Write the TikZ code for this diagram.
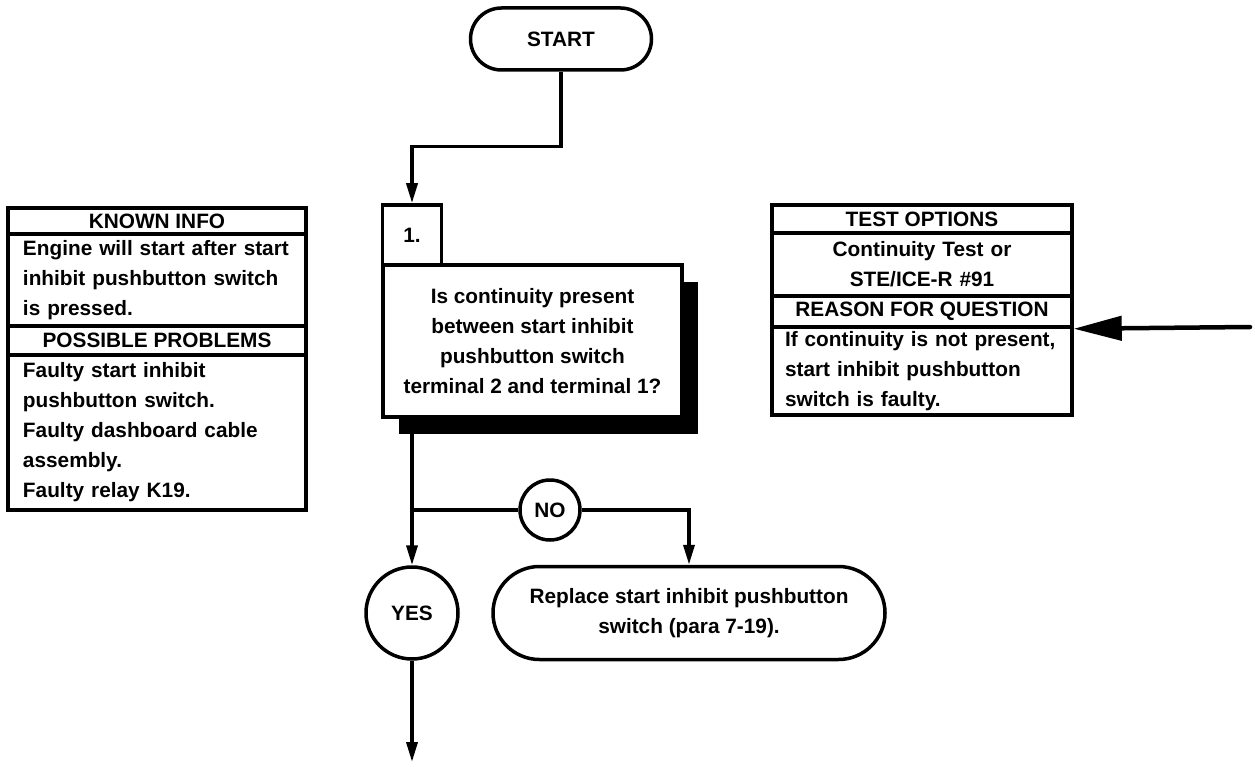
\documentclass[tikz,border=0pt]{standalone}
\usepackage{fontspec}
\setmainfont{Liberation Sans}
\usetikzlibrary{positioning,arrows.meta}

\begin{document}
\begin{tikzpicture}[x=1pt, y=-1pt, line width=3.5pt, font=\bfseries\fontsize{20.8}{30}\selectfont,
    arr/.style = {-{Triangle[length=20pt,width=11pt]}},
    term/.style = {draw, rectangle, fill=white, inner sep=0pt},
    ans/.style = {draw, circle, inner sep=0pt},
    head/.style = {draw, minimum width=298pt, inner sep=0pt},
    body/.style = {draw, text width=284pt, inner xsep=7pt, inner ysep=0pt, align=left},
    cbody/.style = {draw, text width=284pt, inner xsep=8pt, inner ysep=0pt, align=center}]
    \useasboundingbox (0,0) rectangle (1255,767);

    \node[term, minimum width=181pt, minimum height=62pt, rounded corners=31pt] (start) at (561,39) {START};

    \node[fill=black, minimum width=299pt, minimum height=152pt] (shadow) at (548.5,358) {};
    \node[draw, fill=white, minimum width=299pt, minimum height=152pt, align=center] (q1) at (532.5,341)
        {Is continuity present\\between start inhibit\\pushbutton switch\\terminal 2 and terminal 1?};
    \node[draw, fill=white, minimum width=59pt, minimum height=60pt, inner sep=0pt] (num) at (412,235) {1.};

    \node[head, minimum height=26pt] (kh) at (157,221) {KNOWN INFO};
    \node[body, minimum height=92pt] (kb) at (157,280) {\hspace*{8pt}Engine will start after start\\\hspace*{8pt}inhibit pushbutton switch\\\hspace*{8pt}is pressed.};
    \node[head, minimum height=29pt] (ph) at (157,340.5) {POSSIBLE PROBLEMS};
    \node[body, minimum height=155pt] (pb) at (157,432.5) {\hspace*{8pt}Faulty start inhibit\\\hspace*{8pt}pushbutton switch.\\\hspace*{8pt}Faulty dashboard cable\\\hspace*{8pt}assembly.\\\hspace*{8pt}Faulty relay K19.};

    \node[head, minimum width=300pt, minimum height=28pt] (th) at (922,219) {TEST OPTIONS};
    \node[cbody, minimum height=63pt] (tb) at (922,264.5) {Continuity Test or\\STE/ICE-R \#91};
    \node[head, minimum width=300pt, minimum height=31pt] (rh) at (922,311.5) {REASON FOR QUESTION};
    \node[body, inner xsep=8pt, minimum height=88pt] (rb) at (922,371) {\hspace*{5pt}If continuity is not present,\\\hspace*{5pt}start inhibit pushbutton\\\hspace*{5pt}switch is faulty.};

    \node[ans, minimum size=60pt] (no) at (550,510) {NO};
    \node[ans, minimum size=92pt] (yes) at (412,613) {YES};
    \node[term, minimum width=392pt, minimum height=93pt, rounded corners=46.5pt, align=center] (repl) at (689,613)
        {Replace start inhibit pushbutton\\switch (para 7-19).};

    \coordinate (split) at (412,510);
    \coordinate (down) at (412,762);
    \coordinate (point) at (1250,327);

    \draw[arr] (start.south) -- ++(0,75) -| (num.north);
    \draw[arr] (q1.south -| split) -- (yes.north);
    \draw (split) -- (no.west);
    \draw[arr] (no.east) -| (repl.north);
    \draw[arr] (yes.south) -- (down);
    \draw[-{Triangle[length=48pt,width=24pt]}, line width=4.5pt, line cap=round] (point) -- (rh.south east);
\end{tikzpicture}
\end{document}
